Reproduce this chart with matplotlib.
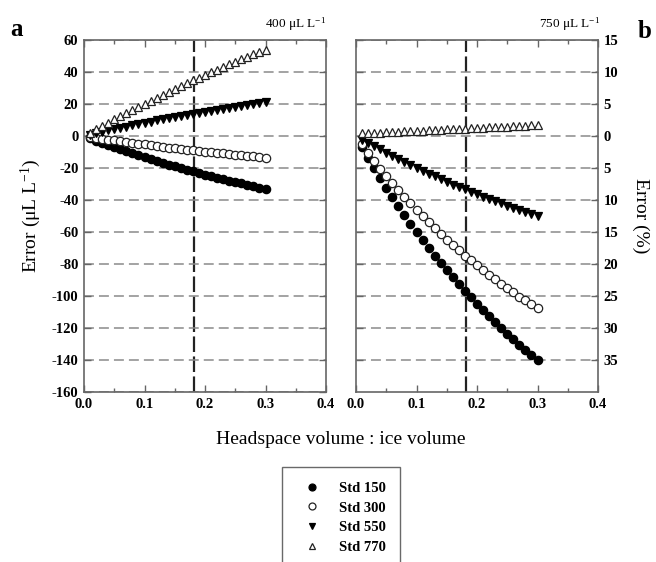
import matplotlib
matplotlib.use("Agg")
import matplotlib.pyplot as plt
from matplotlib.lines import Line2D
from matplotlib.ticker import MultipleLocator

plt.rcParams['font.family'] = ['Liberation Serif', 'DejaVu Serif']
plt.rcParams['mathtext.fontset'] = 'custom'
plt.rcParams['mathtext.rm'] = 'Liberation Serif'
plt.rcParams['mathtext.it'] = 'Liberation Serif:italic'

# ---- data ----
ratio = [0.01, 0.02, 0.03, 0.04, 0.05, 0.06, 0.07, 0.08, 0.09, 0.10,
         0.11, 0.12, 0.13, 0.14, 0.15, 0.16, 0.17, 0.18, 0.19, 0.20,
         0.21, 0.22, 0.23, 0.24, 0.25, 0.26, 0.27, 0.28, 0.29, 0.30]

# panel a: 400 uL/L, error in uL/L
a_std150 = [-1.5, -2.9, -4.3, -5.7, -7.0, -8.3, -9.6, -10.9, -12.1, -13.3,
            -14.5, -15.7, -16.8, -17.9, -19.0, -20.0, -21.1, -22.1, -23.1, -24.1,
            -25.1, -26.0, -27.0, -27.9, -28.8, -29.6, -30.5, -31.4, -32.2, -33.0]
a_std300 = [-0.6, -1.1, -1.7, -2.2, -2.8, -3.3, -3.8, -4.3, -4.8, -5.3,
            -5.8, -6.3, -6.7, -7.2, -7.6, -8.1, -8.5, -8.9, -9.3, -9.8,
            -10.2, -10.6, -10.9, -11.3, -11.7, -12.1, -12.4, -12.8, -13.2, -13.5]
a_std550 = [0.9, 1.8, 2.7, 3.5, 4.3, 5.1, 5.9, 6.7, 7.5, 8.3,
            9.0, 9.7, 10.5, 11.2, 11.9, 12.5, 13.2, 13.9, 14.5, 15.2,
            15.8, 16.4, 17.0, 17.6, 18.2, 18.8, 19.4, 19.9, 20.5, 21.0]
a_std770 = [2.1, 4.3, 6.3, 8.4, 10.4, 12.4, 14.4, 16.4, 18.3, 20.2,
            22.1, 23.9, 25.8, 27.6, 29.4, 31.2, 32.9, 34.7, 36.4, 38.1,
            39.8, 41.4, 43.1, 44.7, 46.3, 47.9, 49.4, 51.0, 52.5, 54.0]

# panel b: 750 uL/L, error in %
b_std150 = [-1.7, -3.4, -5.0, -6.6, -8.1, -9.5, -11.0, -12.4, -13.7, -15.0,
            -16.3, -17.5, -18.7, -19.9, -21.0, -22.1, -23.2, -24.2, -25.2, -26.2,
            -27.2, -28.2, -29.1, -30.0, -30.9, -31.7, -32.6, -33.4, -34.2, -35.0]
b_std300 = [-1.3, -2.6, -3.9, -5.1, -6.2, -7.4, -8.5, -9.5, -10.5, -11.6,
            -12.5, -13.5, -14.4, -15.3, -16.2, -17.0, -17.8, -18.7, -19.4, -20.2,
            -21.0, -21.7, -22.4, -23.1, -23.8, -24.4, -25.1, -25.7, -26.3, -26.9]
b_std550 = [-0.6, -1.1, -1.6, -2.1, -2.6, -3.1, -3.6, -4.1, -4.6, -5.0,
            -5.5, -5.9, -6.3, -6.7, -7.2, -7.6, -8.0, -8.3, -8.7, -9.1,
            -9.5, -9.8, -10.2, -10.5, -10.9, -11.2, -11.6, -11.9, -12.2, -12.5]
b_std770 = [0.40, 0.44, 0.49, 0.53, 0.58, 0.62, 0.67, 0.71, 0.76, 0.80,
            0.85, 0.89, 0.94, 0.98, 1.03, 1.07, 1.12, 1.16, 1.21, 1.25,
            1.30, 1.34, 1.39, 1.43, 1.48, 1.52, 1.57, 1.61, 1.66, 1.70]

series_names = ['Std 150', 'Std 300', 'Std 550', 'Std 770']
a_ticks = [60, 40, 20, 0, -20, -40, -60, -80, -100, -120, -140, -160]
b_ticks = [15, 10, 5, 0, -5, -10, -15, -20, -25, -30, -35]
b_ticklabels = ['15', '10', '5', '0', '5', '10', '15', '20', '25', '30', '35']
x_ticklabels = ['0.0', '0.1', '0.2', '0.3', '0.4']
ref_ratio = 0.182

# ---- styles ----
styles = [dict(marker='o', mfc='black', mec='black'),
          dict(marker='o', mfc='white', mec='#222222'),
          dict(marker='v', mfc='black', mec='black'),
          dict(marker='^', mfc='white', mec='#222222')]
ms = 6.0

fig = plt.figure(figsize=(6.56, 5.62), dpi=100)
W, H = 656, 562
axA = fig.add_axes([84 / W, 1 - 392 / H, 242 / W, 352 / H])
axB = fig.add_axes([356 / W, 1 - 392 / H, 242 / W, 352 / H])

spine_col = '#666666'
for ax in (axA, axB):
    ax.set_xlim(0, 0.4)
    ax.xaxis.set_major_locator(MultipleLocator(0.1))
    ax.xaxis.set_minor_locator(MultipleLocator(0.05))
    ax.set_xticks([0, 0.1, 0.2, 0.3, 0.4])
    ax.set_xticklabels(x_ticklabels)
    ax.tick_params(axis='both', which='major', direction='in', length=5,
                   width=1, color=spine_col, labelsize=10.5, pad=4)
    ax.tick_params(axis='x', which='minor', direction='in', length=2.8,
                   width=1, color=spine_col)
    ax.tick_params(axis='x', which='both', top=True)
    for s in ax.spines.values():
        s.set_color(spine_col)
        s.set_linewidth(1.2)
    ax.grid(axis='y', linestyle=(0, (6.5, 3.3)), color='#8a8a8a', lw=1.1, zorder=0)
    ax.axvline(ref_ratio, color='#222222', lw=1.6, linestyle=(0, (7, 2)), zorder=1)

# panel a
axA.set_ylim(-160, 60)
axA.set_yticks(a_ticks)
axA.set_yticklabels([str(t) for t in a_ticks], fontweight='bold')
axA.tick_params(axis='y', right=True)
for data, st in zip([a_std150, a_std300, a_std550, a_std770], styles):
    axA.plot(ratio, data, linestyle='none', ms=ms, mew=0.9, zorder=3, clip_on=False, **st)
for lab in axA.get_xticklabels():
    lab.set_fontweight('bold')
axA.set_ylabel('Error (μL L$^{-1}$)', fontsize=14, labelpad=6)

# panel b
axB.set_ylim(-40, 15)
axB.set_yticks(b_ticks)
axB.set_yticklabels(b_ticklabels, fontweight='bold')
axB.yaxis.tick_right()
axB.tick_params(axis='y', left=True, right=True, labelleft=False, labelright=True)
for data, st in zip([b_std150, b_std300, b_std550, b_std770], styles):
    axB.plot(ratio, data, linestyle='none', ms=ms, mew=0.9, zorder=3, clip_on=False, **st)
for lab in axB.get_xticklabels():
    lab.set_fontweight('bold')
axB.yaxis.set_label_position('right')
axB.set_ylabel('Error (%)', fontsize=14, rotation=270, labelpad=22)

# titles
fig.text(326 / W, 1 - 24 / H, '400 μL L$^{-1}$', ha='right', va='center', fontsize=9.5)
fig.text(600 / W, 1 - 24 / H, '750 μL L$^{-1}$', ha='right', va='center', fontsize=9.5)
fig.text(10 / W, 1 - 30 / H, 'a', ha='left', va='center', fontsize=18, fontweight='bold')
fig.text(638 / W, 1 - 31 / H, 'b', ha='left', va='center', fontsize=18, fontweight='bold')
fig.text(341 / W, 1 - 439 / H, 'Headspace volume : ice volume', ha='center', va='center', fontsize=14)

# legend
handles = [Line2D([], [], linestyle='none', ms=5, mew=0.9, **st) for st in styles]
leg = fig.legend(handles, series_names, loc='upper left',
                 bbox_to_anchor=(282 / W, 1 - 467 / H),
                 prop=dict(weight='bold', size=10.5), frameon=True, fancybox=False,
                 edgecolor='#444444', borderpad=1.0, labelspacing=0.45,
                 handlelength=2.1, handletextpad=0.8, borderaxespad=0)
leg.get_frame().set_linewidth(1.0)

fig.savefig('out.png', dpi=100)
